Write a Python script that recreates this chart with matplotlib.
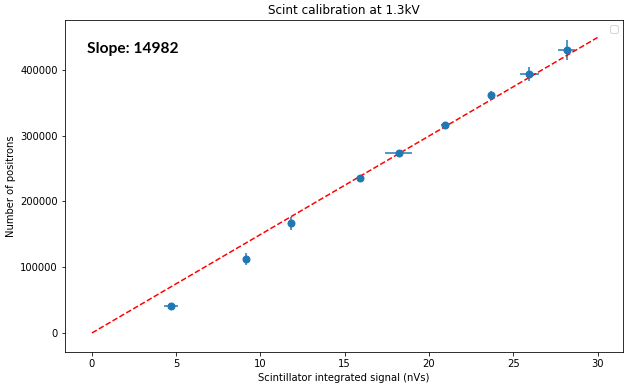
import matplotlib
matplotlib.use("Agg")
import matplotlib.pyplot as plt
import numpy as np

x = [4.68, 9.13, 11.8, 15.89, 18.2, 20.92, 23.7, 25.96, 28.16]
y = [41000, 112500, 167000, 235500, 273500, 316000, 362000, 394000, 430000]
xerr = [0.4, 0.15, 0.15, 0.15, 0.8, 0.2, 0.2, 0.55, 0.5]
yerr = [3000, 9000, 10000, 4000, 4000, 5000, 6000, 11000, 15000]
slope = 14982
fit_x = [0, 30]

fig = plt.figure(figsize=(631/72, 386/72), dpi=72)
ax = fig.add_axes([0.103, 0.088, 0.884, 0.86])
ax.errorbar(x, y, xerr=xerr, yerr=yerr, fmt='o', color='#1f77b4', ms=7, elinewidth=1.5)
fx = np.array(fit_x)
ax.plot(fx, slope * fx, 'r--')
ax.text(0.04, 0.9, f"Slope: {slope}", transform=ax.transAxes, fontsize=15.5,
        fontweight='bold', family='Lato')
ax.set_ylim(-29000, 476000)
ax.set_xlim(-1.6, 31.5)
ax.set_title("Scint calibration at 1.3kV")
ax.set_xlabel("Scintillator integrated signal (nVs)")
ax.set_ylabel("Number of positrons")
ax.legend()
fig.savefig("out.png", dpi=72)
